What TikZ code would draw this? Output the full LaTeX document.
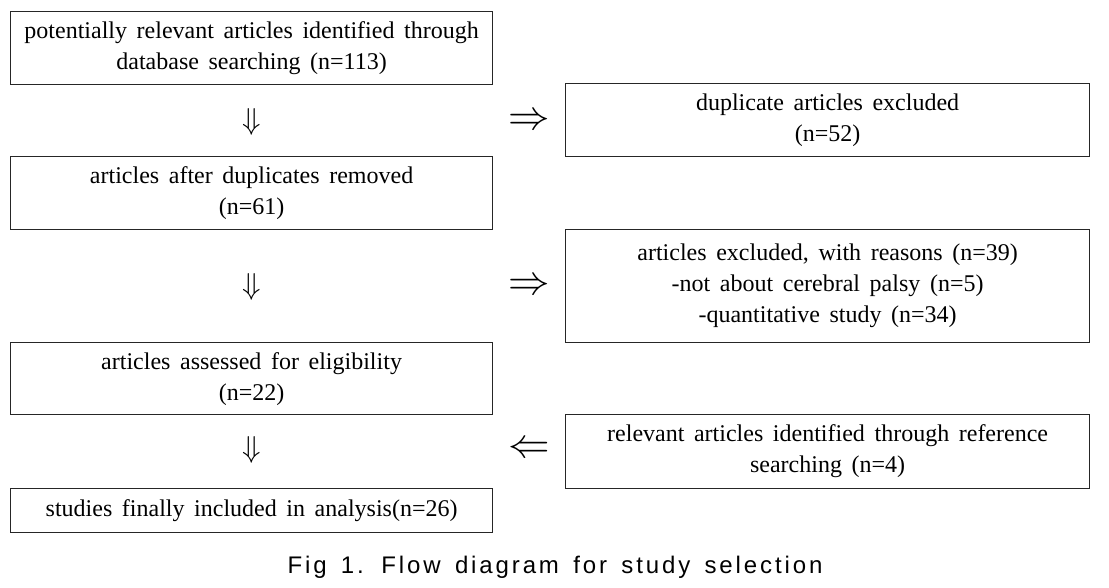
\documentclass[tikz,border=0pt]{standalone}
\usepackage{fontspec}
\setmainfont{Liberation Serif}[WordSpace=1.6]
\newfontfamily\captionfont{Liberation Sans}[LetterSpace=12,WordSpace=1.5]
\usepackage{tikz}

\begin{document}
\begin{tikzpicture}[x=1pt,y=-1pt,
  box/.style={draw=black!85,line width=1.2pt,rectangle,anchor=north west,inner sep=0pt,align=center,
    font=\fontsize{24}{31}\selectfont},
  leftbox/.style={box,minimum width=482pt},
  rightbox/.style={box,minimum width=524pt},
  arrowsign/.style={inner sep=0pt,font=\fontsize{20}{20}\selectfont}]
%
\newcommand{\downsign}{\scalebox{1.46}{$\Downarrow$}}
\newcommand{\rightsign}{\scalebox{2}{$\Rightarrow$}}
\newcommand{\leftsign}{\scalebox{2}{$\Leftarrow$}}
%
\path[use as bounding box] (0,0) rectangle (1109,587);
%
% left column
\node[leftbox,minimum height=73pt] (search) at (10,11) {potentially relevant articles identified through\\database searching (n=113)};
\node[leftbox,minimum height=73pt] (afterdup) at (10,156) {articles after duplicates removed\\(n=61)};
\node[leftbox,minimum height=72pt] (assessed) at (10,342) {articles assessed for eligibility\\(n=22)};
\node[leftbox,minimum height=44pt] (final) at (10,488) {studies finally included in analysis(n=26)};
%
% right column
\node[rightbox,minimum height=73pt] (dupexcl) at (565,83) {duplicate articles excluded\\(n=52)};
\node[rightbox,minimum height=113pt] (reasons) at (565,229) {articles excluded, with reasons (n=39)\\-not about cerebral palsy (n=5)\\-quantitative study (n=34)};
\node[rightbox,minimum height=74pt] (refsearch) at (565,414) {relevant articles identified through reference\\searching (n=4)};
%
% arrows
\node[arrowsign] (down1) at (252,122) {\downsign};
\node[arrowsign] (down2) at (252,287) {\downsign};
\node[arrowsign] (down3) at (252,450) {\downsign};
\node[arrowsign] (right1) at (529,122) {\rightsign};
\node[arrowsign] (right2) at (529,287) {\rightsign};
\node[arrowsign] (left1) at (529,450) {\leftsign};
%
\node[font=\captionfont\fontsize{24}{24}\selectfont] (caption) at (555,567) {Fig 1. Flow diagram for study selection};
%
\end{tikzpicture}
\end{document}
